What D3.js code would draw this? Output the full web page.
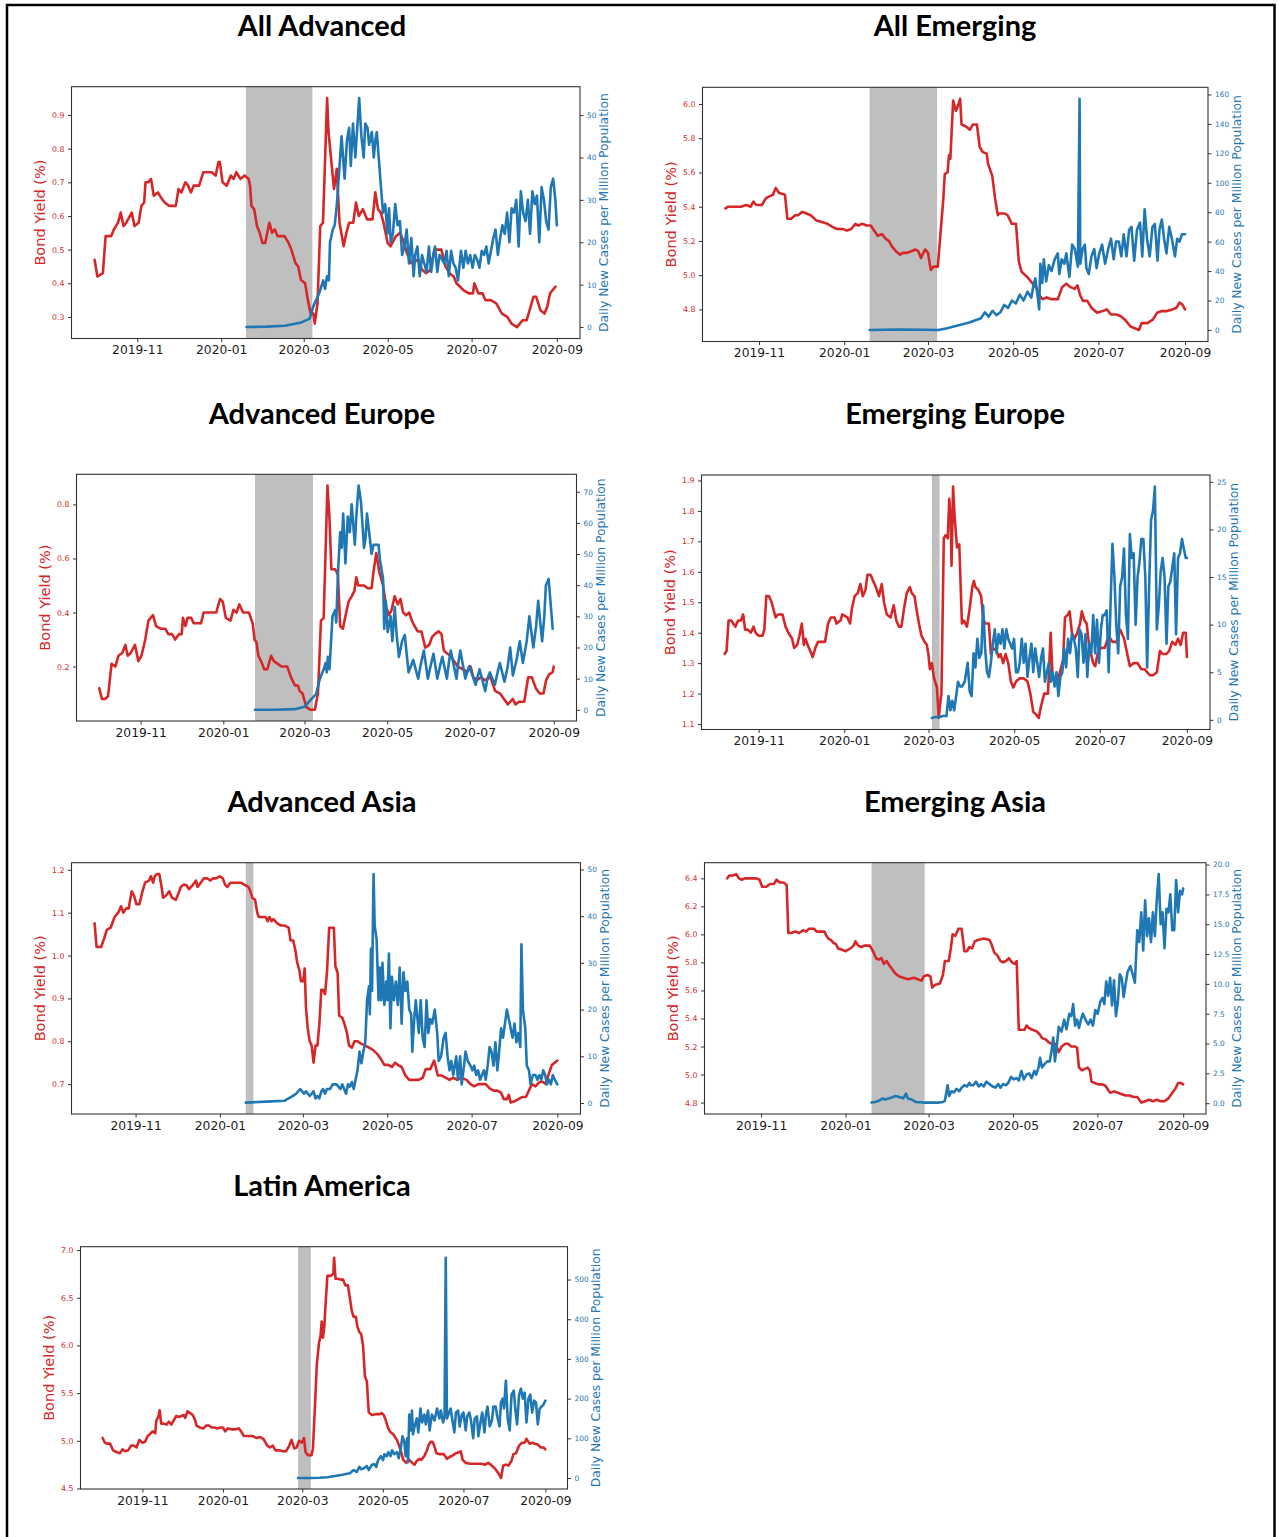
<!DOCTYPE html>
<html>
<head>
<meta charset="utf-8">
<script src="https://cdn.jsdelivr.net/npm/d3@7"></script>
<style>
  body { margin: 0; background: #fff; }
  svg { display: block; }
</style>
</head>
<body>
<svg id="fig" width="1279" height="1537"></svg>
<script>
// Day offsets are counted from 2019-10-01 (day 0).
const START_UTC = Date.UTC(2019, 9, 1);
const toDate = d => new Date(START_UTC + d * 864e5);

const xTickLabels = ["2019-11", "2020-01", "2020-03", "2020-05", "2020-07", "2020-09"];

// ---------- All Advanced ----------
const allAdvancedYield = [[0,.47],[2,.42],[6,.43],[8,.54],[12,.54],[14,.56],[17,.58],[19,.61],[21,.57],[23,.58],[27,.61],[29,.57],[32,.58],[34,.63],[36,.64],[37,.70],[39,.70],[41,.71],[43,.66],[46,.67],[49,.65],[51,.64],[54,.63],[59,.63],[61,.68],[63,.67],[66,.70],[68,.69],[70,.67],[72,.69],[76,.69],[79,.73],[85,.73],[88,.72],[90,.76],[91,.76],[93,.70],[96,.69],[99,.72],[101,.71],[103,.73],[106,.71],[109,.72],[112,.71],[113,.69],[114,.63],[116,.62],[118,.57],[120,.55],[122,.52],[124,.52],[126,.56],[127,.58],[129,.55],[131,.56],[133,.54],[138,.54],[141,.52],[143,.50],[146,.46],[148,.45],[150,.41],[153,.40],[155,.35],[157,.31],[159,.31],[160,.28],[162,.34],[164,.57],[166,.58],[169,.95],[170,.85],[174,.68],[176,.74],[178,.58],[181,.51],[183,.55],[185,.58],[188,.58],[190,.64],[192,.60],[195,.62],[198,.59],[202,.59],[204,.67],[206,.62],[208,.61],[210,.58],[213,.52],[215,.51],[219,.54],[222,.55],[224,.53],[227,.49],[230,.46],[235,.47],[238,.44],[241,.43],[244,.44],[247,.50],[252,.50],[255,.45],[258,.43],[261,.42],[263,.40],[268,.38],[272,.37],[275,.37],[276,.40],[279,.37],[282,.37],[284,.35],[288,.35],[292,.34],[296,.31],[300,.30],[303,.28],[307,.27],[311,.29],[314,.29],[319,.36],[321,.36],[324,.32],[327,.31],[329,.33],[331,.37],[333,.38],[335,.39]];
const allAdvancedCases = [[110.4,0],[125,0.1],[138.2,0.3],[149.4,1],[156.3,2],[159.1,5],[163.3,8],[166.1,11],[167.5,9],[168.9,12],[170.3,11],[171.1,20],[173.1,23],[174.5,24],[176.1,29],[177.8,37],[179.5,45],[181.7,35],[183.4,44],[185,47],[186.2,38],[187.8,48],[189.5,40],[191.7,51],[192.3,54],[193.9,45],[195.6,40],[196.7,48],[198.4,47],[199.5,43],[201.5,46],[202.9,40],[204,44],[205.1,46],[206.5,40],[207.9,34],[209.6,27],[211.2,29],[212.9,22],[214,28],[215.2,20],[216.8,22],[218.5,29],[220.2,24],[221.9,25],[223.5,17],[225.2,19],[226.8,23],[228.5,15],[230.2,21],[231.9,12],[233,17],[234.6,19],[236.3,12],[238,17],[239.6,15],[241.3,13],[243,19],[244.6,13],[246.3,17],[247.4,19],[249.1,13],[250.7,17],[252.4,16],[254.1,15],[255.8,18],[257.4,12],[259.1,18],[260.8,15],[262.4,14],[264.1,11],[266.3,18],[268,14],[269.7,18],[271.3,15],[273,17],[274.7,14],[276.4,17],[278,16],[279.7,14],[281.4,18],[283.1,17],[284.7,19],[286.4,15],[288.1,18],[289.8,21],[291.4,23],[293.1,17],[294.8,21],[296.4,24],[298.1,22],[299.8,27],[301.5,20],[303.1,28],[304.8,27],[306.5,30],[308.2,19],[309.8,32],[311.5,27],[313.2,25],[314.9,30],[316.5,22],[318.2,32],[319.9,29],[321.5,31],[323.2,20],[324.9,33],[326.6,30],[328.2,25],[329.9,23],[331.6,33],[333.3,35],[334.9,30],[336,24]];
const allAdvancedShade = [110, 158.3];
const allAdvancedYieldTicks = [0.3, 0.4, 0.5, 0.6, 0.7, 0.8, 0.9];
const allAdvancedCaseTicks = [0, 10, 20, 30, 40, 50];

// ---------- All Emerging ----------
const allEmergingYield = [[7,5.39],[9,5.40],[14,5.40],[18,5.40],[22,5.41],[25,5.40],[27,5.43],[29,5.41],[33,5.41],[36,5.45],[38.5,5.46],[41,5.47],[43,5.51],[45.4,5.48],[49.6,5.47],[51.3,5.33],[54,5.33],[57,5.35],[59,5.35],[62,5.37],[65,5.36],[68,5.35],[72,5.32],[76,5.31],[80,5.30],[84,5.28],[87,5.27],[91,5.27],[94,5.26],[97,5.27],[100,5.30],[102,5.29],[105,5.30],[108,5.29],[111,5.29],[113.5,5.26],[116,5.23],[119,5.24],[122,5.21],[124,5.20],[126,5.17],[129,5.14],[132,5.12],[134,5.13],[137,5.13],[140,5.14],[143,5.15],[145,5.14],[147,5.10],[148,5.12],[150,5.15],[152,5.13],[154,5.03],[156,5.05],[159,5.05],[161,5.25],[163,5.45],[164,5.59],[166,5.60],[167,5.70],[168,5.68],[169,5.85],[170,6.02],[172,5.96],[173,5.98],[175,6.03],[176,5.88],[179,5.87],[182,5.85],[184,5.88],[187,5.88],[189,5.75],[191,5.72],[194,5.71],[195,5.65],[198,5.58],[200,5.45],[202,5.35],[203,5.36],[207,5.36],[209,5.35],[212,5.30],[215,5.30],[217,5.08],[219,5.02],[223,4.99],[227,4.95],[230,4.92],[232,4.88],[234,4.86],[237,4.87],[240,4.86],[245,4.86],[248,4.93],[251,4.95],[254,4.93],[257,4.92],[259,4.94],[261,4.88],[263,4.85],[266,4.85],[269,4.81],[273,4.78],[277,4.79],[280,4.80],[283,4.77],[287,4.77],[290,4.76],[293,4.74],[297,4.70],[300,4.69],[303,4.68],[305,4.72],[309,4.72],[313,4.74],[316,4.78],[319,4.79],[323,4.79],[327,4.80],[330,4.81],[332,4.84],[334,4.83],[336,4.80]];
const allEmergingCases = [[110.2,0],[130,0.3],[150,0.1],[159.3,0],[164.9,1],[173.2,3],[181.6,5],[189.9,8],[192.7,12],[195.4,9],[198.2,13],[201,10],[203.8,12],[206.6,17],[209.3,15],[212.1,20],[214.9,18],[217.7,24],[220.4,20],[223.2,26],[226,22],[227.4,30],[228.8,35],[230.2,25],[231.6,14],[232.4,45],[233.8,32],[234.9,48],[236.6,33],[238.5,44],[240.4,40],[242.7,48],[244.9,52],[246,38],[247.7,48],[249.6,45],[251,52],[253.2,36],[255.2,58],[257.1,55],[259.3,43],[260.5,157],[261,45],[262.7,55],[264.3,58],[265.4,42],[267.1,38],[269,50],[271,55],[272.7,42],[274.6,52],[276.6,58],[278.8,45],[281,55],[283,62],[284.9,48],[286.6,60],[288.6,60],[290.4,50],[292.1,65],[294.1,50],[296,68],[297.7,70],[299.6,47],[301.6,68],[303.8,73],[305.4,50],[307.1,82],[308.8,62],[310.7,50],[312.7,70],[314.4,72],[316.3,47],[317.7,68],[319.4,75],[321,62],[322.7,52],[324.7,70],[326.6,62],[328.8,50],[330.4,62],[332.1,60],[333.8,65],[336,65]];
const allEmergingShade = [110.2, 158.5];
const allEmergingYieldTicks = [4.8, 5.0, 5.2, 5.4, 5.6, 5.8, 6.0];
const allEmergingCaseTicks = [0, 20, 40, 60, 80, 100, 120, 140, 160];

// ---------- Advanced Europe ----------
const advEuropeYield = [[0.4,.12],[2.4,.08],[4.7,.08],[6.9,.09],[9.5,.21],[12.3,.20],[14.6,.24],[17.4,.25],[19.7,.28],[21.4,.24],[23.6,.25],[26.8,.28],[29.3,.22],[31.6,.24],[34.4,.30],[36.7,.37],[40.1,.39],[42.3,.35],[45.7,.34],[49.1,.34],[51.4,.32],[54.2,.32],[56.5,.30],[59.3,.32],[61.3,.32],[62.2,.38],[64.1,.35],[65.6,.38],[68.4,.38],[70.1,.36],[72.6,.36],[75.5,.36],[77.5,.40],[82,.40],[86.8,.40],[89.6,.45],[91.6,.44],[93.9,.38],[97.3,.37],[99.5,.41],[101.8,.40],[103.8,.43],[106.6,.40],[110.9,.40],[113.7,.36],[115.1,.30],[116.5,.29],[117.9,.24],[119.9,.22],[122.2,.19],[124.5,.19],[127.3,.24],[129.3,.22],[132.2,.21],[135,.20],[139.2,.20],[142,.16],[144.9,.13],[147.1,.13],[148.3,.11],[150.5,.10],[153.4,.05],[156.2,.04],[159.6,.04],[161.9,.10],[164.1,.37],[166.1,.38],[167.5,.62],[168.9,.87],[170.4,.75],[171.8,.56],[174.6,.56],[176.6,.54],[178.3,.35],[180.3,.34],[182.3,.39],[184.5,.44],[186.8,.46],[188.8,.48],[190.2,.53],[191.6,.50],[195.9,.50],[198.7,.49],[201.5,.49],[202.9,.55],[204.9,.62],[207.2,.55],[210,.50],[212.3,.42],[214.3,.39],[216.3,.41],[218.5,.46],[220.8,.43],[222.8,.45],[224.8,.40],[227,.39],[229.3,.40],[231.2,.37],[233.2,.35],[235.5,.33],[238.3,.33],[241.1,.27],[244,.28],[246.2,.31],[248.2,.32],[251.1,.33],[253.1,.32],[254.8,.26],[256.8,.25],[259.6,.24],[262.4,.22],[265.2,.20],[268.9,.19],[272.3,.18],[274.6,.20],[276.6,.16],[279.4,.15],[282.2,.16],[285.1,.15],[289.3,.16],[292.7,.11],[296.4,.10],[299.2,.08],[302.1,.06],[305.8,.08],[307.7,.06],[310.6,.07],[314.2,.07],[317.1,.16],[319.9,.16],[322.7,.12],[325.6,.10],[328.4,.10],[330.4,.15],[332.4,.17],[335.2,.18],[336,.20]];
const advEuropeCases = [[115.4,0],[130,0],[144.9,0.2],[152,1],[156.2,3],[160.5,5],[163.3,10],[166.1,13],[167.5,15],[168.4,12],[169.2,17],[170.4,13],[172.6,30],[174.6,32],[175.4,28],[176.8,45],[178.3,57],[179.4,52],[180.5,63],[182.2,47],[183.9,62],[185.4,57],[186.8,66],[189.1,53],[190.2,62],[191.9,72],[193.6,67],[195.9,52],[197,55],[198.1,63],[200.2,55],[201.5,50],[202.9,53],[206.6,53],[207.7,48],[210,42],[210.8,26],[212,35],[213.4,25],[215.6,30],[216.8,22],[218.6,33],[220,24],[221.7,17],[224,22],[226,24],[228.8,12],[230.5,14],[232.2,16],[235.9,10],[238,15],[240.1,19],[243,10],[245,14],[247.2,18],[250,10],[252,14],[253.7,17],[257.1,10],[258.5,15],[259.9,19],[264.2,10],[265.5,15],[267,19],[270.7,10],[272,12],[273.5,14],[276,11],[278.3,8],[280,11],[281.2,13],[285.4,6],[287,10],[288.8,12],[292.5,8],[294.5,12],[296.2,15],[299.6,9],[302,14],[303.8,20],[305.8,11],[308.5,16],[310.9,22],[313.2,15],[316,22],[318,30],[320.9,20],[323,27],[324.5,35],[327.4,22],[329,30],[330.2,40],[332.2,42],[335.2,26]];
const advEuropeShade = [115.4, 158.2];
const advEuropeYieldTicks = [0.2, 0.4, 0.6, 0.8];
const advEuropeCaseTicks = [0, 10, 20, 30, 40, 50, 60, 70];

// ---------- Emerging Europe ----------
const emgEuropeYield = [[6.8,1.33],[8.2,1.34],[9.6,1.44],[11.5,1.44],[12.9,1.43],[14.5,1.42],[16.4,1.44],[18.4,1.44],[20,1.46],[21.4,1.41],[23.3,1.41],[25.5,1.40],[27.4,1.42],[28.8,1.40],[31,1.39],[33.7,1.39],[35.1,1.41],[36.5,1.52],[38.4,1.52],[40.3,1.50],[43.1,1.45],[44.7,1.46],[48,1.46],[50.2,1.42],[52.2,1.40],[54.9,1.38],[56.3,1.35],[58.5,1.36],[60.1,1.39],[61.8,1.43],[63.2,1.36],[64.5,1.38],[65.9,1.36],[67.8,1.34],[69.5,1.32],[71.4,1.35],[73.3,1.37],[75,1.37],[78.3,1.37],[80.5,1.43],[82.4,1.45],[85.1,1.45],[86.5,1.43],[89.3,1.44],[90.6,1.46],[94.2,1.45],[96.1,1.43],[97.5,1.48],[99.4,1.52],[101.6,1.53],[103.5,1.56],[105.2,1.52],[107.1,1.54],[108.5,1.59],[110.7,1.59],[112.6,1.57],[114.5,1.55],[116.7,1.52],[118.7,1.56],[120.3,1.50],[122.3,1.46],[125,1.45],[127.2,1.49],[129.1,1.44],[131,1.42],[132.7,1.42],[134.6,1.48],[136.5,1.53],[138.7,1.55],[140.1,1.53],[142,1.52],[143.7,1.47],[145.6,1.42],[147,1.39],[149.2,1.37],[150.8,1.36],[151.9,1.33],[153,1.28],[154.4,1.30],[156,1.25],[158,1.22],[159.3,1.12],[160.1,1.16],[161.2,1.20],[162.9,1.71],[164,1.72],[165.7,1.71],[166.8,1.84],[167.9,1.76],[168.4,1.62],[169.5,1.88],[170.6,1.78],[172.3,1.68],[173.9,1.69],[175.8,1.43],[177.2,1.44],[179.4,1.42],[181.3,1.48],[183.2,1.55],[184.3,1.57],[185.4,1.55],[187.6,1.54],[189.5,1.52],[190.9,1.45],[192.3,1.43],[195,1.43],[196.4,1.33],[197.8,1.35],[200.5,1.34],[201.9,1.32],[203.3,1.33],[205.2,1.30],[206.9,1.33],[208.8,1.30],[210.7,1.24],[212.4,1.22],[214.3,1.24],[217,1.25],[219.8,1.25],[222.5,1.24],[224.5,1.20],[226.6,1.14],[228.9,1.13],[230.5,1.12],[232.2,1.16],[234.4,1.20],[237.1,1.20],[239,1.40],[240.4,1.25],[242.6,1.23],[245,1.26],[247.8,1.31],[249.2,1.45],[251.4,1.46],[252.5,1.47],[254.1,1.40],[256,1.38],[258,1.40],[259.9,1.43],[261.2,1.47],[263.1,1.44],[264.6,1.43],[266.6,1.35],[269.3,1.30],[270.7,1.29],[272.8,1.34],[275.1,1.35],[277.5,1.35],[280.3,1.39],[283,1.37],[285.8,1.37],[288.5,1.41],[291.3,1.38],[294,1.32],[295.4,1.29],[298.1,1.30],[300.9,1.30],[303.6,1.28],[305.8,1.28],[307.8,1.27],[309.7,1.26],[311.9,1.26],[314.6,1.27],[316.8,1.34],[318.7,1.33],[321.5,1.33],[323.4,1.34],[325.6,1.37],[327.8,1.36],[329.7,1.38],[331.6,1.36],[333.3,1.40],[335.2,1.40],[336,1.32]];
const emgEuropeCases = [[154.4,0.2],[157,0.3],[160,0.3],[162,0.4],[164.8,0.4],[166.2,2.5],[167.6,1],[168.9,2],[170.3,1],[171.7,2.5],[173,4],[174.4,3.5],[175.8,3.5],[177.8,4],[179.9,6],[181.3,3],[182.7,2.5],[184.1,7],[185.4,5.5],[186.8,8.5],[188.2,6.5],[189.6,7],[190.9,12],[192.3,7.5],[193.7,5],[195,4.5],[196.4,6],[197.8,8],[199.2,9.5],[200.5,7],[201.9,9],[203.3,8],[204.7,9.5],[206,7.5],[207.4,9.5],[208.8,8.5],[210.2,8],[211.5,7.5],[212.9,8.5],[214.3,5],[215.7,5],[217,6],[218.4,8.5],[219.8,6],[221.1,8],[222.5,4.5],[223.9,6.5],[225.3,8],[226.6,5],[228,7.5],[229.4,6],[230.8,4.5],[232.2,6.5],[233.5,7.5],[234.9,4],[236.3,5],[237.7,6],[239,4],[240.4,5],[241.8,3.5],[243.1,5],[244.5,2.5],[245.9,4.5],[247.3,5],[248.6,7.5],[250,5.5],[251.4,8.5],[252.8,7],[254.1,9],[255.5,8.5],[256.9,7.5],[258.3,4.5],[259.6,9.5],[261,9],[262.4,6],[263.8,9],[265.1,4.5],[266.5,8],[267.9,7],[269.3,11],[270.6,7],[272,10.5],[273.4,6],[274.8,9.5],[276.1,11],[277.5,11],[278.9,11.5],[280.3,5],[281.6,12],[283,18.5],[284.4,15],[285.7,10],[287.1,7],[288.5,14],[289.9,15],[291.2,18],[292.6,11],[294,8.5],[295.4,19.5],[296.7,17],[298.1,17.5],[299.5,10],[300.9,15],[302.2,16.5],[303.6,19],[305,19],[306.4,15],[307.7,5.5],[309.1,14],[310.5,21],[311.9,22],[313.2,24.5],[314.6,9.5],[316,12],[317.3,15.5],[318.7,17],[320.1,15],[321.5,8],[322.8,14],[324.2,14.5],[325.6,16],[327,17.5],[328.3,9],[329.7,17],[331.1,17.5],[332.5,19],[333.8,18],[335.2,17],[336,17]];
const emgEuropeShade = [154.4, 159.9];
const emgEuropeYieldTicks = [1.1, 1.2, 1.3, 1.4, 1.5, 1.6, 1.7, 1.8, 1.9];
const emgEuropeCaseTicks = [0, 5, 10, 15, 20, 25];

// ---------- Advanced Asia ----------
const advAsiaYield = [[1.4,1.075],[2.8,1.02],[6.1,1.02],[8.3,1.04],[10.2,1.06],[13,1.065],[15.8,1.09],[18.5,1.10],[20.5,1.115],[22.1,1.10],[24.1,1.11],[26,1.11],[28.2,1.15],[29.9,1.14],[31.6,1.12],[33.8,1.12],[36,1.15],[37.9,1.17],[40.7,1.175],[42.1,1.185],[43.7,1.17],[44.8,1.185],[46.5,1.19],[48.2,1.19],[49.8,1.16],[50.9,1.135],[53.1,1.14],[55.4,1.15],[57.3,1.135],[60.1,1.13],[62,1.145],[63.7,1.16],[65.6,1.165],[67.5,1.165],[69.7,1.155],[72.5,1.165],[74.7,1.175],[75.8,1.16],[78.1,1.17],[80.3,1.18],[83,1.18],[85,1.175],[86.9,1.18],[89.1,1.18],[91.9,1.185],[94.1,1.18],[95.8,1.165],[97.4,1.16],[99.6,1.17],[101.9,1.17],[104.3,1.17],[107.1,1.17],[109.9,1.165],[112.6,1.16],[114,1.15],[115.4,1.135],[117.4,1.13],[119,1.10],[120.1,1.09],[122.4,1.09],[125.1,1.09],[126.5,1.08],[127.9,1.09],[129.3,1.08],[130.6,1.085],[133.4,1.075],[136.2,1.07],[139,1.07],[141.7,1.065],[143.1,1.035],[145,1.035],[146.7,1.01],[147.8,0.985],[149.5,0.965],[150.6,0.94],[152.2,0.94],[153.3,0.97],[154.2,0.88],[155.5,0.83],[156.9,0.80],[158.3,0.79],[159.7,0.75],[161.1,0.79],[162.5,0.79],[163.9,0.84],[165.3,0.92],[166.6,0.92],[168,0.91],[169.4,0.96],[171,1.065],[172.7,1.065],[174.4,1.065],[175.5,0.975],[177.1,0.96],[178.2,0.86],[180.5,0.855],[182.1,0.84],[183.8,0.82],[185.4,0.79],[187.4,0.785],[189.3,0.80],[191.5,0.80],[193.7,0.795],[197.1,0.79],[199.8,0.785],[202.6,0.78],[205.9,0.77],[208.1,0.76],[210.9,0.745],[213.7,0.745],[216.4,0.74],[218.7,0.75],[220.6,0.745],[223.4,0.74],[226.1,0.72],[228.9,0.71],[231.7,0.71],[235.8,0.71],[238.6,0.715],[240.8,0.735],[244.1,0.735],[246.9,0.755],[249.6,0.72],[252.4,0.72],[255.2,0.715],[258,0.71],[260.7,0.715],[263.5,0.71],[266.3,0.715],[270.4,0.71],[273.2,0.70],[275.9,0.695],[278.7,0.70],[281.5,0.70],[284.2,0.70],[287,0.69],[289.8,0.685],[292.6,0.685],[295.3,0.68],[297.3,0.665],[299.5,0.665],[300.9,0.675],[302.2,0.657],[305,0.66],[307.8,0.665],[310.5,0.67],[313.3,0.67],[316.1,0.69],[317.7,0.70],[320.2,0.695],[323,0.705],[325.8,0.705],[327.7,0.70],[329.9,0.725],[332.1,0.745],[334.1,0.75],[336,0.755]];
const advAsiaCases = [[110.7,0.1],[125,0.3],[138.9,0.5],[141.7,1],[144.5,1.5],[147.2,2],[150,3],[151.4,2.5],[152.8,2],[154.2,2.5],[156.9,1.5],[159.7,2.5],[161.1,1],[162.5,1.5],[163.9,1],[165.3,2.5],[166.6,3],[168,2],[169.4,3],[171.6,3],[173.5,4],[176.3,4],[177.7,3.5],[179.1,3],[180.5,4],[181.8,3],[183.2,2],[184.6,4],[186,3.5],[187.4,4.5],[188.8,3],[190.1,5],[191.5,7],[192.9,11],[194.3,8.5],[195.7,11],[197.1,13],[198.4,22],[199.8,25],[200.4,19],[201.2,33],[202,24],[202.6,38],[203.1,49],[203.9,38],[205.3,35],[206.7,22],[207.6,29],[208.7,22],[209.5,30],[210.9,21],[212.3,26],[213.1,22],[214.2,32],[215.3,16],[216.4,27],[217.8,22],[219.2,26],[220.6,21],[222,29],[223.4,17],[224.7,28],[226.1,24],[227.5,26],[228.9,20],[230.3,19],[231.1,11],[232.5,18],[233.6,22],[235.8,15],[237.2,22],[238.6,14],[240,12],[241.4,22],[242.7,15],[244.1,18],[245.5,17],[247.4,20],[249.1,15],[250.2,9],[251.9,10],[253.8,14],[255.2,15],[256.6,10],[258,7],[259.3,9],[260.7,6],[262.9,10],[264.1,5],[265.7,10],[266.8,4],[268.5,8],[269.6,11],[271.2,9],[273.2,8],[274.6,7],[275.9,8],[277.3,6],[278.7,7],[280.1,5],[281.5,6],[282.9,7],[284.2,5],[285.6,8],[287,12],[288.4,11],[289.8,8],[291.2,13],[292.6,7],[293.9,11],[295.3,16],[296.7,14],[298.1,17],[299.5,20],[300.9,18],[302.2,16],[303.6,14],[305,17],[306.4,13],[307.8,15],[309.2,12],[310,34],[311.1,20],[312.8,16],[313.9,8],[315.5,7],[316.6,4],[318.3,6],[320.2,6],[321.6,5],[323,6],[324.4,5],[325.8,7],[327.2,6],[328.5,4],[329.9,5],[331.3,4],[332.7,6],[334.1,5],[336,4]];
const advAsiaShade = [110.7, 116.2];
const advAsiaYieldTicks = [0.7, 0.8, 0.9, 1.0, 1.1, 1.2];
const advAsiaCaseTicks = [0, 10, 20, 30, 40, 50];

// ---------- Emerging Asia ----------
const emgAsiaYield = [[6.6,6.40],[8,6.42],[10.8,6.42],[13,6.43],[15,6.40],[17,6.39],[19.2,6.40],[22,6.40],[24.3,6.40],[27.1,6.40],[29.9,6.39],[31.8,6.34],[34.7,6.34],[37.5,6.36],[40.3,6.36],[42.2,6.39],[44.5,6.37],[47.3,6.37],[48.7,6.36],[49.5,6.35],[50.7,6.01],[52.9,6.01],[55.7,6.02],[58.5,6.01],[61.3,6.03],[63.6,6.02],[65.5,6.04],[69.2,6.04],[71.2,6.02],[74,6.02],[76.8,6.02],[78.2,5.99],[79.6,5.97],[81.5,5.96],[83.3,5.94],[85.2,5.93],[86.6,5.90],[89.5,5.89],[92.2,5.88],[93.6,5.89],[95.6,5.90],[97.8,5.92],[99.2,5.95],[101.2,5.92],[103.5,5.91],[105.7,5.92],[107.7,5.92],[109.6,5.92],[111.9,5.88],[114.1,5.83],[116.1,5.82],[118,5.83],[119.7,5.79],[121.7,5.81],[123.6,5.78],[125.9,5.75],[128.1,5.72],[130.9,5.70],[133.7,5.69],[137.1,5.68],[141.4,5.69],[144.2,5.68],[147,5.67],[148.4,5.70],[151.2,5.71],[153.4,5.70],[154.6,5.62],[156.8,5.64],[160.2,5.65],[162.4,5.71],[163.8,5.81],[166.6,5.81],[168.1,5.90],[169.4,6.00],[171.4,5.99],[173.6,6.04],[175.9,6.04],[177.9,5.88],[179.8,5.88],[181.5,5.91],[183.5,5.90],[185.4,5.95],[187.7,5.96],[191.9,5.97],[196.1,5.96],[197.5,5.93],[199.5,5.87],[201.7,5.85],[204,5.81],[205.9,5.80],[207.9,5.81],[210.1,5.83],[212.4,5.80],[214.3,5.79],[215.7,5.81],[217.2,5.32],[219.1,5.32],[221.4,5.32],[222.8,5.35],[224.8,5.33],[227,5.32],[229.8,5.31],[232.1,5.29],[234,5.26],[236.8,5.25],[238.8,5.23],[241,5.22],[243.8,5.22],[246.1,5.16],[248.1,5.20],[250.9,5.22],[252.8,5.22],[255.1,5.20],[257.9,5.20],[259.3,5.19],[260.7,5.05],[262.9,5.03],[264.9,5.04],[266.9,5.05],[268.6,5.03],[269.7,4.95],[271.9,4.94],[274.7,4.93],[277.6,4.93],[279.8,4.92],[281.8,4.89],[283.2,4.87],[286,4.88],[288.8,4.87],[291.6,4.86],[294.4,4.85],[297.2,4.85],[300,4.84],[302.8,4.84],[305.7,4.80],[308.5,4.81],[311.3,4.82],[314.1,4.81],[316.9,4.82],[319.7,4.81],[322.5,4.81],[325.3,4.83],[328.1,4.87],[330.4,4.90],[332.3,4.94],[334.3,4.94],[336,4.93]];
const emgAsiaCases = [[110.8,0.05],[113.3,0.1],[116.1,0.2],[118.9,0.4],[120.3,0.3],[123.1,0.4],[125.9,0.5],[128.2,0.6],[131.5,0.5],[133.7,0.4],[135.7,0.8],[137.1,0.4],[139.9,0.3],[142.7,0.1],[148.4,0.05],[153.9,0.05],[159.6,0.05],[162.4,0.1],[163.8,0.2],[165.8,1.5],[166.9,0.6],[168.6,1.0],[170.3,0.9],[172.2,1.2],[174.2,1.0],[175.9,1.3],[177.9,1.5],[179.8,1.4],[181.5,1.7],[182.6,1.5],[184.3,1.5],[186.3,1.8],[188.2,1.4],[189.9,1.6],[191.9,1.4],[193.8,1.8],[196.1,1.6],[198.3,1.4],[200.3,1.3],[202.3,1.6],[204,1.3],[205.9,1.6],[207.9,1.5],[209.6,1.7],[211.6,2.2],[213.5,2.0],[215.7,2.1],[217.2,1.9],[219.1,2.7],[220.8,2.0],[222.8,2.4],[224.8,2.5],[226.5,2.1],[228.4,2.7],[229.8,2.4],[231.5,3.0],[232.6,3.8],[234,3.0],[236,3.3],[237.7,3.5],[239.6,3.5],[241,4.5],[242.1,5.5],[243.3,3.5],[244.4,4.5],[246.1,6.4],[248.1,6.0],[250,7.0],[251.7,6.2],[253.7,7.5],[255.1,7.3],[256.5,8.3],[257.9,6.5],[259.3,7.0],[260.7,6.3],[262.1,7.0],[263.5,7.5],[265.8,6.9],[267.4,6.6],[269.1,7.0],[270.8,6.5],[272.5,7.8],[274.2,7.5],[276.1,8.5],[277.6,8.8],[279,8.3],[280.4,10.2],[281.8,9.0],[283.2,10.5],[284.6,8.2],[286,10.3],[287.4,7.3],[288.8,8.5],[290.2,10.8],[291.6,10.5],[293,8.9],[294.4,10.0],[295.8,11.0],[297.8,11.5],[299.5,10.8],[301.1,10.1],[302.8,14.5],[304.2,13.5],[305.7,16.0],[307.1,12.8],[308.5,17.0],[309.9,14.0],[311.3,15.5],[312.7,13.5],[314.1,16.0],[315.5,14.0],[316.9,17.0],[318.3,19.2],[319.7,15.0],[321.1,16.0],[322.5,13.0],[323.9,16.3],[325.3,16.0],[326.7,17.5],[328.1,14.5],[329.5,14.5],[330.9,18.7],[332.3,16.0],[333.7,17.8],[335.1,17.5],[336,18.0]];
const emgAsiaShade = [110.8, 149.2];
const emgAsiaYieldTicks = [4.8, 5.0, 5.2, 5.4, 5.6, 5.8, 6.0, 6.2, 6.4];
const emgAsiaCaseTicks = [0, 2.5, 5, 7.5, 10, 12.5, 15, 17.5, 20];

// ---------- Latin America ----------
const latAmYield = [[0.9,5.03],[2.6,4.98],[4.6,4.97],[6.5,4.97],[8.8,4.90],[11.7,4.88],[13.9,4.87],[15.9,4.91],[17.9,4.89],[20.2,4.90],[22.5,4.95],[24.5,4.95],[26.5,4.93],[28.7,5.01],[31,4.98],[33,4.99],[35,5.05],[36.7,5.07],[38.7,5.10],[40.7,5.08],[41.5,5.21],[43,5.25],[44.1,5.32],[45.2,5.18],[47.2,5.18],[49.2,5.17],[50.9,5.20],[52.9,5.17],[54.9,5.22],[56.6,5.26],[58.6,5.25],[60.6,5.26],[62.3,5.27],[63.4,5.24],[65.1,5.31],[67.1,5.29],[69.1,5.27],[70.8,5.22],[72,5.16],[74.3,5.14],[77.1,5.13],[79.4,5.16],[81.4,5.16],[83.4,5.14],[85.6,5.14],[87.9,5.13],[89.9,5.14],[91.9,5.14],[93.6,5.10],[95.6,5.13],[98.4,5.12],[101.3,5.12],[104.1,5.13],[106.1,5.09],[107.8,5.05],[111.2,5.05],[114.1,5.05],[117.5,5.03],[119.8,5.04],[122.6,5.02],[125.5,4.95],[127.7,4.93],[129.7,4.95],[131.7,4.90],[134.6,4.90],[137.4,4.89],[139.7,4.89],[141.9,4.94],[143.9,5.01],[145.9,4.92],[147.7,4.93],[149.6,5.00],[151.6,4.98],[153.3,5.03],[154.5,4.88],[156.2,4.85],[159,4.85],[160.1,4.92],[161.9,5.45],[163,5.80],[164.7,6.03],[165.8,6.10],[166.7,6.25],[167.6,6.08],[168.7,6.20],[169.6,6.42],[171,6.73],[173.3,6.73],[175.5,6.75],[176.1,6.92],[177.2,6.70],[178.9,6.70],[180.9,6.69],[182.9,6.69],[184.6,6.63],[186.6,6.63],[188,6.50],[189.5,6.36],[190.9,6.30],[192.6,6.30],[193.7,6.20],[195.2,6.14],[196.6,6.12],[198,6.00],[199.4,5.68],[200.9,5.62],[202.3,5.30],[203.7,5.28],[205.1,5.27],[208,5.28],[210.8,5.28],[212.2,5.29],[213.7,5.27],[215.1,5.22],[217.1,5.13],[218.8,5.09],[220.8,5.07],[223.6,5.01],[225,4.96],[226.5,4.90],[228.4,4.80],[230.7,4.77],[233,4.80],[235,4.77],[237,4.75],[238.7,4.79],[240.7,4.81],[242.1,4.80],[244.4,4.84],[246.4,4.90],[247.8,4.96],[249.2,4.99],[250.6,4.99],[252.1,4.94],[253.5,4.87],[256.3,4.86],[259.2,4.86],[261.5,4.81],[263.5,4.83],[266.3,4.85],[268.3,4.87],[270.6,4.88],[272,4.89],[273.4,4.80],[275.7,4.77],[278.5,4.76],[281.9,4.76],[284.8,4.76],[287.6,4.76],[290.5,4.75],[292.7,4.77],[294.7,4.75],[296.2,4.73],[298.4,4.70],[300.4,4.66],[302.4,4.61],[304.1,4.74],[306.1,4.75],[308.1,4.74],[310.4,4.79],[311.8,4.86],[313.8,4.87],[316.1,4.95],[318.3,4.98],[320.3,4.98],[321.7,5.02],[324,4.97],[326,4.98],[328,4.97],[330.3,4.96],[332.6,4.93],[334.6,4.93],[336,4.91]];
const latAmCases = [[148.8,0],[158,0],[165.3,0.5],[171,2],[176.7,5],[182.4,8],[185.2,10],[188,12],[190.9,20],[193.2,15],[195.2,28],[196.6,22],[198.9,25],[200.9,30],[202.3,20],[204.6,33],[206.5,35],[208,28],[209.4,45],[211.4,55],[213.1,45],[214.2,60],[215.9,55],[217.1,65],[218.8,55],[219.9,70],[221.6,60],[223.6,65],[225,50],[226.5,75],[227.9,105],[229.3,90],[230.2,55],[231.3,100],[232.1,40],[233,160],[234.1,120],[235,170],[235.8,110],[237,130],[238.7,150],[239.8,115],[241.5,175],[242.7,140],[244.4,160],[245.5,135],[247.2,170],[248.4,120],[250.1,160],[252.1,145],[254,175],[255.8,150],[256.9,170],[258.6,140],[259.7,155],[260.6,555],[261.5,150],[262.6,160],[264.3,175],[265.4,150],[267.1,115],[268.3,165],[270,170],[271.1,130],[272.8,160],[274,165],[275.7,120],[276.8,155],[278.5,165],[279.7,145],[281.4,100],[282.5,150],[284.2,155],[285.3,105],[287.1,145],[288.2,165],[289.9,115],[291,160],[292.2,180],[293.9,130],[295.6,145],[296.7,180],[298.4,180],[299.6,155],[301.3,130],[302.4,190],[303.6,200],[304.7,175],[306.1,245],[307.5,150],[309,120],[310.4,210],[312.1,220],[313.2,175],[314.6,135],[316.1,210],[317.5,225],[318.9,200],[320.3,215],[321.7,140],[323.2,200],[324.6,210],[326,165],[327.5,195],[328.9,190],[330.3,135],[331.7,175],[333.1,180],[334.6,185],[336,195]];
const latAmShade = [148.8, 158.5];
const latAmYieldTicks = [4.5, 5.0, 5.5, 6.0, 6.5, 7.0];
const latAmCaseTicks = [0, 100, 200, 300, 400, 500];

// Panel content
const panels = [
  { title: "All Advanced",    yieldData: allAdvancedYield,  caseData: allAdvancedCases,  shade: allAdvancedShade,  yTicks: allAdvancedYieldTicks,  cTicks: allAdvancedCaseTicks,  cFmt: "d" },
  { title: "All Emerging",    yieldData: allEmergingYield,  caseData: allEmergingCases,  shade: allEmergingShade,  yTicks: allEmergingYieldTicks,  cTicks: allEmergingCaseTicks,  cFmt: "d" },
  { title: "Advanced Europe", yieldData: advEuropeYield,    caseData: advEuropeCases,    shade: advEuropeShade,    yTicks: advEuropeYieldTicks,    cTicks: advEuropeCaseTicks,    cFmt: "d" },
  { title: "Emerging Europe", yieldData: emgEuropeYield,    caseData: emgEuropeCases,    shade: emgEuropeShade,    yTicks: emgEuropeYieldTicks,    cTicks: emgEuropeCaseTicks,    cFmt: "d" },
  { title: "Advanced Asia",   yieldData: advAsiaYield,      caseData: advAsiaCases,      shade: advAsiaShade,      yTicks: advAsiaYieldTicks,      cTicks: advAsiaCaseTicks,      cFmt: "d" },
  { title: "Emerging Asia",   yieldData: emgAsiaYield,      caseData: emgAsiaCases,      shade: emgAsiaShade,      yTicks: emgAsiaYieldTicks,      cTicks: emgAsiaCaseTicks,      cFmt: ".1f" },
  { title: "Latin America",   yieldData: latAmYield,        caseData: latAmCases,        shade: latAmShade,        yTicks: latAmYieldTicks,        cTicks: latAmCaseTicks,        cFmt: "d" }
];

// Panel geometry: plot box [left, top, right, bottom] and title anchor
const layout = [
  { box: [71.5, 86.7, 580, 338.5],    titleX: 322, titleY: 36 },
  { box: [702.5, 87.3, 1208, 341.5],  titleX: 955, titleY: 36 },
  { box: [76.5, 474.3, 576.5, 721],   titleX: 322, titleY: 424 },
  { box: [701.5, 475, 1210, 729.5],   titleX: 955, titleY: 424 },
  { box: [71.5, 862.7, 580.5, 1114],  titleX: 322, titleY: 812 },
  { box: [704.5, 862.7, 1206, 1114],  titleX: 955, titleY: 812 },
  { box: [80.5, 1246.7, 567.5, 1489], titleX: 322, titleY: 1196 }
];

const RED = "#d62728", BLUE = "#1f77b4", SHADE = "#bfbfbf";
const FONT = "'DejaVu Sans', sans-serif";
const TICK = 3.5, PAD = 3.5;
const LINE_W = 2.6;

const svg = d3.select("#fig");

// outer frame of the figure sheet
svg.append("path")
  .attr("d", "M7,1540V5H1274.5V1540")
  .attr("fill", "none").attr("stroke", "#000").attr("stroke-width", 2.5);

const padded = ([a, b]) => { const m = (b - a) * 0.05; return [a - m, b + m]; };
const xTickDates = xTickLabels.map(s => { const [y, m] = s.split("-").map(Number); return new Date(Date.UTC(y, m - 1, 1)); });

panels.forEach((p, i) => {
  const [L, T, R, B] = layout[i].box;
  const g = svg.append("g");

  const days = p.yieldData.map(d => d[0]).concat(p.caseData.map(d => d[0]));
  const [d0, d1] = padded(d3.extent(days));
  const x = d3.scaleUtc().domain([toDate(d0), toDate(d1)]).range([L, R]);
  const y = d3.scaleLinear().domain(padded(d3.extent(p.yieldData, d => d[1]))).range([B, T]);
  const c = d3.scaleLinear().domain(padded(d3.extent(p.caseData, d => d[1]))).range([B, T]);

  // title
  svg.append("text")
    .attr("x", layout[i].titleX).attr("y", layout[i].titleY)
    .attr("text-anchor", "middle")
    .style("font-family", "Lato, 'Open Sans', sans-serif")
    .style("font-weight", 700).style("font-size", "29px").attr("fill", "#000")
    .text(p.title);

  const clipId = "clip" + i;
  svg.append("clipPath").attr("id", clipId)
    .append("rect").attr("x", L).attr("y", T).attr("width", R - L).attr("height", B - T);

  // shaded period
  const sx0 = x(toDate(p.shade[0])), sx1 = x(toDate(p.shade[1]));
  g.append("rect").attr("x", sx0).attr("y", T).attr("width", sx1 - sx0).attr("height", B - T)
    .attr("fill", SHADE);

  const plot = g.append("g").attr("clip-path", `url(#${clipId})`);
  plot.append("path").datum(p.yieldData)
    .attr("fill", "none").attr("stroke", RED).attr("stroke-width", LINE_W)
    .attr("stroke-linejoin", "round").attr("stroke-linecap", "round")
    .attr("d", d3.line().x(d => x(toDate(d[0]))).y(d => y(d[1])));
  plot.append("path").datum(p.caseData)
    .attr("fill", "none").attr("stroke", BLUE).attr("stroke-width", LINE_W)
    .attr("stroke-linejoin", "round").attr("stroke-linecap", "round")
    .attr("d", d3.line().x(d => x(toDate(d[0]))).y(d => c(d[1])));

  // frame
  g.append("rect").attr("x", L).attr("y", T).attr("width", R - L).attr("height", B - T)
    .attr("fill", "none").attr("stroke", "#333").attr("stroke-width", 1.1);

  // bottom axis
  const gx = g.append("g").attr("transform", `translate(0,${B})`)
    .call(d3.axisBottom(x).tickValues(xTickDates).tickFormat(d3.utcFormat("%Y-%m"))
      .tickSize(TICK).tickSizeOuter(0).tickPadding(PAD));
  gx.select(".domain").remove();
  gx.selectAll("line").attr("stroke", "#333");
  gx.selectAll("text").style("font-family", FONT).style("font-size", "12.3px").attr("fill", "#1a1a1a");

  // left axis (bond yield)
  const gy = g.append("g").attr("transform", `translate(${L},0)`)
    .call(d3.axisLeft(y).tickValues(p.yTicks).tickFormat(d3.format(".1f"))
      .tickSize(TICK).tickSizeOuter(0).tickPadding(PAD));
  gy.select(".domain").remove();
  gy.selectAll("line").attr("stroke", "#333");
  gy.selectAll("text").style("font-family", FONT).style("font-size", "7.8px").attr("fill", RED);

  // right axis (cases)
  const gc = g.append("g").attr("transform", `translate(${R},0)`)
    .call(d3.axisRight(c).tickValues(p.cTicks).tickFormat(d3.format(p.cFmt))
      .tickSize(TICK).tickSizeOuter(0).tickPadding(PAD));
  gc.select(".domain").remove();
  gc.selectAll("line").attr("stroke", "#333");
  gc.selectAll("text").style("font-family", FONT).style("font-size", "7.4px").attr("fill", BLUE);

  const maxW = sel => d3.max(sel.selectAll("text").nodes(), n => n.getBBox().width) || 0;
  const wl = maxW(gy), wr = maxW(gc);
  const cy = (T + B) / 2;

  const fsL = 14.5;
  const xl = L - TICK - PAD - wl - 4 - fsL * 0.24;
  g.append("text")
    .attr("transform", `translate(${xl},${cy}) rotate(-90)`)
    .attr("text-anchor", "middle")
    .style("font-family", FONT).style("font-size", fsL + "px").attr("fill", RED)
    .text("Bond Yield (%)");

  const fsR = 12.3;
  const xr = R + TICK + PAD + wr + 2 + fsR * 0.76;
  g.append("text")
    .attr("transform", `translate(${xr},${cy}) rotate(-90)`)
    .attr("text-anchor", "middle")
    .style("font-family", FONT).style("font-size", fsR + "px").attr("fill", BLUE)
    .text("Daily New Cases per Million Population");
});
</script>
</body>
</html>
